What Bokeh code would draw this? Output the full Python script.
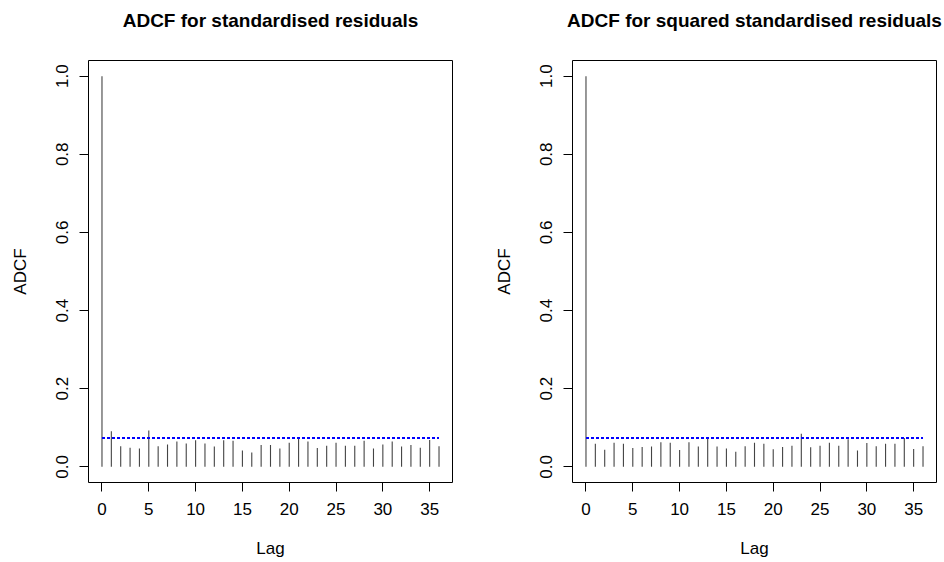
from bokeh.plotting import figure
from bokeh.layouts import row
from bokeh.models import FixedTicker, Range1d, ColumnDataSource, Title
from bokeh.embed import file_html
from bokeh.resources import INLINE

lags = list(range(0, 37))
adcf_std = [1.0, 0.091, 0.053, 0.049, 0.047, 0.093, 0.053, 0.057, 0.065, 0.060,
            0.068, 0.060, 0.052, 0.068, 0.067, 0.042, 0.037, 0.056, 0.056, 0.047,
            0.062, 0.076, 0.065, 0.048, 0.054, 0.062, 0.054, 0.054, 0.067, 0.047,
            0.057, 0.065, 0.052, 0.056, 0.049, 0.069, 0.053]
adcf_sq = [1.0, 0.059, 0.044, 0.062, 0.059, 0.048, 0.051, 0.052, 0.063, 0.062,
           0.043, 0.063, 0.052, 0.072, 0.052, 0.047, 0.039, 0.053, 0.062, 0.059,
           0.045, 0.051, 0.054, 0.085, 0.050, 0.054, 0.062, 0.054, 0.071, 0.042,
           0.061, 0.053, 0.059, 0.059, 0.074, 0.046, 0.053]
ci_std = 0.074
ci_sq = 0.074
titles = ["ADCF for standardised residuals", "ADCF for squared standardised residuals"]
x_ticks = [0, 5, 10, 15, 20, 25, 30, 35]
y_ticks = [0.0, 0.2, 0.4, 0.6, 0.8, 1.0]

FONT = "Liberation Sans"
FRAME_W = 364


def make_panel(vals, ci, title, border_left, border_right):
    p = figure(width=border_left + FRAME_W + border_right, height=562,
               output_backend="svg", toolbar_location=None,
               x_range=Range1d(-1.44, 37.44), y_range=Range1d(-0.04, 1.04),
               min_border_left=border_left, min_border_right=border_right,
               min_border_top=59, min_border_bottom=80)
    p.xgrid.visible = False
    p.ygrid.visible = False
    p.outline_line_color = "black"
    p.outline_line_width = 1
    p.background_fill_color = "white"
    p.border_fill_color = "white"

    # spacer panel between frame and title, then the title itself (outermost)
    p.add_layout(Title(text=" ", text_font_size="10px", standoff=10), "above")
    p.add_layout(Title(text=title, align="center", text_font=FONT,
                       text_font_size="19px", text_font_style="bold",
                       text_color="black", standoff=14), "above")

    src = ColumnDataSource(dict(x=lags, y0=[0] * len(lags), y1=vals))
    p.segment(x0="x", y0="y0", x1="x", y1="y1", source=src,
              line_color="#444444", line_width=1.1)
    p.segment(x0=[lags[0]], y0=[ci], x1=[lags[-1]], y1=[ci],
              line_color="blue", line_width=2, line_dash="3 2")

    for ax in (p.xaxis, p.yaxis):
        ax.axis_line_color = None
        ax.major_tick_line_color = "black"
        ax.major_tick_out = 9
        ax.major_tick_in = 0
        ax.minor_tick_line_color = None
        ax.major_label_text_font = FONT
        ax.major_label_text_font_size = "17px"
        ax.major_label_text_color = "black"
        ax.axis_label_text_font = FONT
        ax.axis_label_text_font_size = "17px"
        ax.axis_label_text_font_style = "normal"
        ax.axis_label_text_color = "black"

    p.xaxis.ticker = FixedTicker(ticks=x_ticks)
    p.xaxis.major_label_standoff = 11
    p.xaxis.axis_label = "Lag"
    p.xaxis.axis_label_standoff = 21

    p.yaxis.ticker = FixedTicker(ticks=y_ticks)
    p.yaxis.major_label_overrides = {t: f"{t:.1f}" for t in y_ticks}
    p.yaxis.major_label_orientation = "vertical"
    p.yaxis.major_label_standoff = 11
    p.yaxis.axis_label = "ADCF"
    p.yaxis.axis_label_standoff = 24
    return p


p1 = make_panel(adcf_std, ci_std, titles[0], 88, 20)
p2 = make_panel(adcf_sq, ci_sq, titles[1], 100, 8)
layout = row(p1, p2, spacing=0)

open("out.html", "w").write(file_html(layout, INLINE))
